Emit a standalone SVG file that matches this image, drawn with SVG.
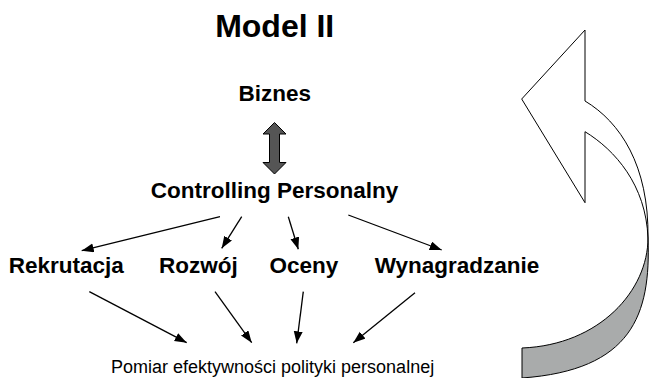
<svg xmlns="http://www.w3.org/2000/svg" width="649" height="378" viewBox="0 0 649 378">
  <style>
    .title { font-family: "Liberation Sans", Arial, sans-serif; font-weight: bold; font-size: 32px; fill: #000; }
    .label { font-family: "Liberation Sans", Arial, sans-serif; font-weight: bold; font-size: 22.5px; fill: #000; text-anchor: middle; }
    .note { font-family: "Liberation Sans", Arial, sans-serif; font-size: 18px; fill: #000; }
    .link { stroke: #000; stroke-width: 1.3; fill: none; marker-end: url(#head); }
  </style>
  <defs>
    <marker id="head" markerUnits="userSpaceOnUse" markerWidth="12" markerHeight="10" refX="12" refY="4.5" orient="auto">
      <path d="M0,0 L12,4.5 L0,9 Z" fill="#000"/>
    </marker>
  </defs>
  <rect width="649" height="378" fill="#fff"/>

  <text class="title" x="274.7" y="37" text-anchor="middle">Model II</text>

  <g id="biznes">
    <text class="label" x="274.7" y="101">Biznes</text>
  </g>

  <!-- two-way link between business and controlling -->
  <g id="exchange">
    <path d="M274.5,122.5 L286,134 L279.5,134 L279.5,162.5 L286,162.5 L274.5,174 L263,162.5 L269.5,162.5 L269.5,134 L263,134 Z" fill="#555" stroke="#000" stroke-width="1"/>
  </g>

  <g id="controlling">
    <text class="label" x="274.5" y="198.3">Controlling Personalny</text>
  </g>

  <g id="rekrutacja">
    <text class="label" x="66.3" y="273">Rekrutacja</text>
  </g>
  <g id="rozwoj">
    <text class="label" x="198.3" y="273">Rozwój</text>
  </g>
  <g id="oceny">
    <text class="label" x="303.8" y="273">Oceny</text>
  </g>
  <g id="wynagradzanie">
    <text class="label" x="457" y="273">Wynagradzanie</text>
  </g>

  <g id="pomiar">
    <text class="note" x="111" y="373">Pomiar efektywności polityki personalnej</text>
  </g>

  <g id="connectors">
    <line class="link" x1="220" y1="216.7" x2="81.7" y2="250.7"/>
    <line class="link" x1="241.7" y1="216.7" x2="221.7" y2="248.3"/>
    <line class="link" x1="288.3" y1="216.7" x2="298.3" y2="249.3"/>
    <line class="link" x1="348.3" y1="215" x2="441.7" y2="250"/>
    <line class="link" x1="89.3" y1="291.7" x2="186.7" y2="342.7"/>
    <line class="link" x1="215" y1="291.7" x2="251.7" y2="342.7"/>
    <line class="link" x1="303.3" y1="291.7" x2="296.7" y2="343.3"/>
    <line class="link" x1="415" y1="292.7" x2="353.3" y2="342.7"/>
  </g>

  <!-- curved return arrow: back face in grey, front face with head in white -->
  <g id="cycle">
    <path d="M648,238 C651,315 632,370 522,378 L522,348 C600,345 648,290 648,238 Z" fill="#a9abab" stroke="#000" stroke-width="1"/>
    <path d="M585,30 L521.7,99 L585,202.7 L585,131.7 C615,150 646,185 648,238 C649,165 620,122 585,101 Z" fill="#fff" stroke="#000" stroke-width="1"/>
  </g>
</svg>
